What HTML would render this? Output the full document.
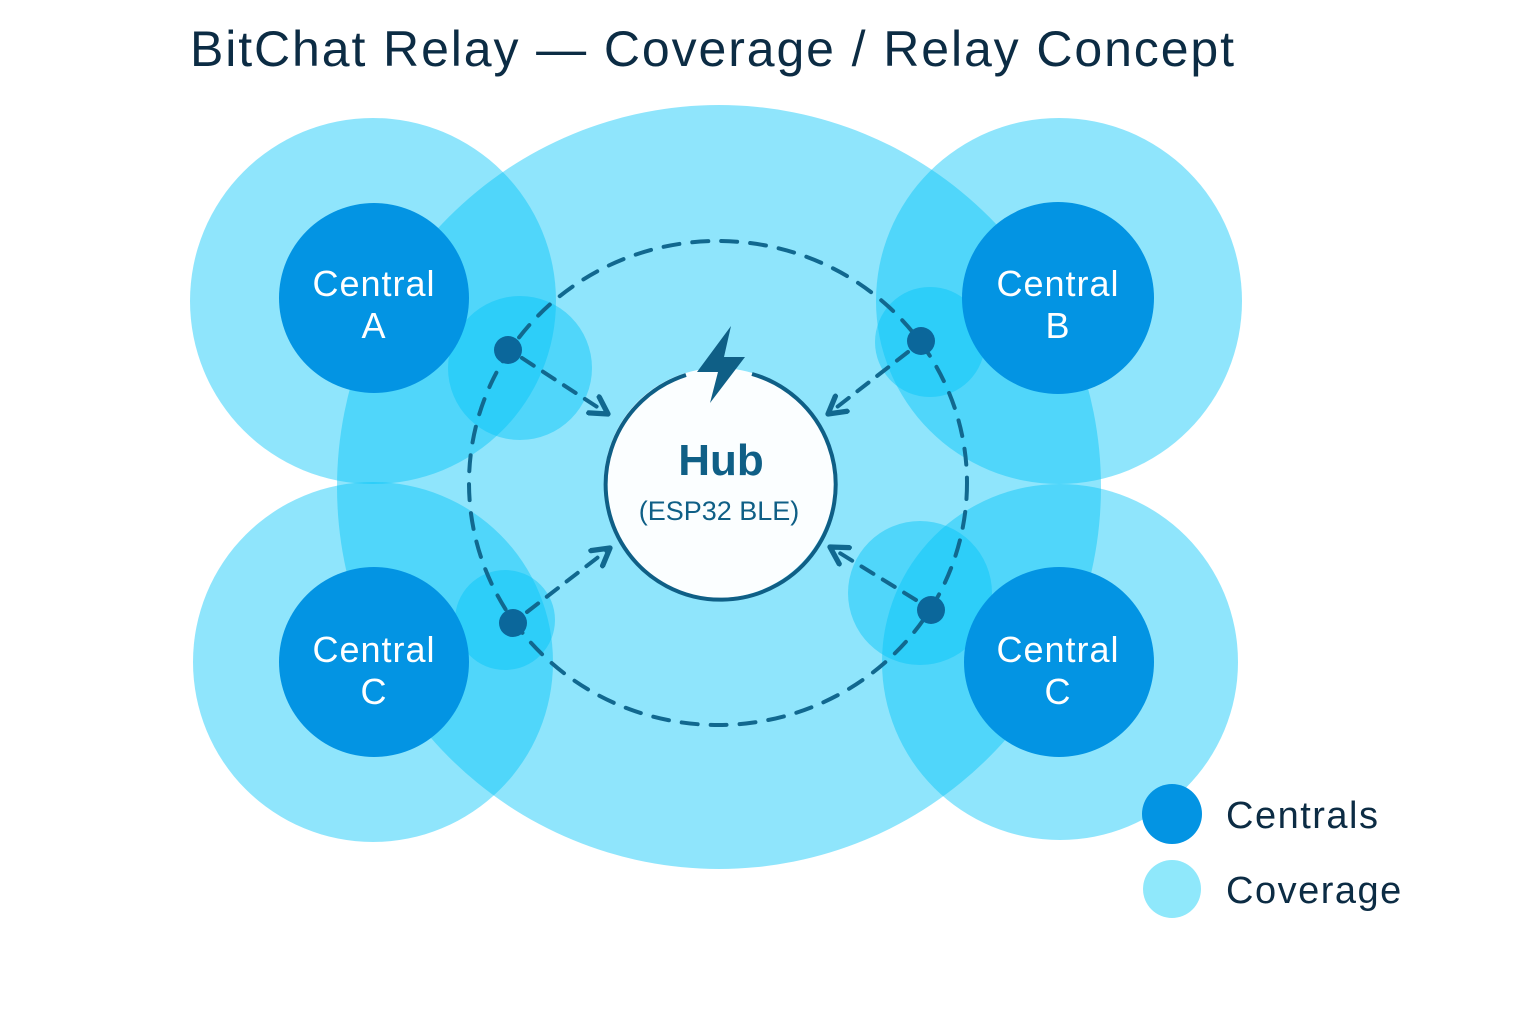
<!DOCTYPE html>
<html><head><meta charset="utf-8"><style>
html,body{margin:0;padding:0;background:#fff;}
svg{display:block;}
text{font-family:"Liberation Sans","DejaVu Sans",sans-serif;}
</style></head><body>
<svg width="1536" height="1024" viewBox="0 0 1536 1024" xmlns="http://www.w3.org/2000/svg">
<defs>
<marker id="ah" viewBox="0 0 10 10" refX="8" refY="5" markerWidth="6" markerHeight="6" orient="auto">
<path d="M1,1 L8,5 L1,9" fill="none" stroke="#11688f" stroke-width="2.2" stroke-linecap="round" stroke-linejoin="round"/>
</marker>
</defs>
<text x="190" y="66" font-size="50" letter-spacing="1.9" fill="#0c2c44">BitChat Relay — Coverage / Relay Concept</text>
<g fill="#00c4f8" fill-opacity="0.44">
<circle cx="719" cy="487" r="382"/>
<circle cx="373" cy="301" r="183"/>
<circle cx="1059" cy="301" r="183"/>
<circle cx="373" cy="662" r="180"/>
<circle cx="1060" cy="662" r="178"/>
<circle cx="520" cy="368" r="72"/>
<circle cx="930" cy="342" r="55"/>
<circle cx="505" cy="620" r="50"/>
<circle cx="920" cy="593" r="72"/>
</g>
<ellipse cx="718" cy="483" rx="249" ry="242" fill="none" stroke="#11688f" stroke-width="4" stroke-dasharray="16 13" stroke-linecap="round"/>
<g fill="#0394e3">
<circle cx="374" cy="298" r="95"/>
<circle cx="1058" cy="298" r="96"/>
<circle cx="374" cy="662" r="95"/>
<circle cx="1059" cy="662" r="95"/>
</g>
<g fill="#fff" font-size="36" letter-spacing="1" text-anchor="middle">
<text x="374" y="296">Central</text><text x="374" y="338">A</text>
<text x="1058" y="296">Central</text><text x="1058" y="338">B</text>
<text x="374" y="662">Central</text><text x="374" y="704">C</text>
<text x="1058" y="662">Central</text><text x="1058" y="704">C</text>
</g>
<g stroke="#11688f" stroke-width="4" stroke-dasharray="14 11" stroke-linecap="round" fill="none" marker-end="url(#ah)">
<line x1="522" y1="358" x2="608" y2="414"/>
<line x1="908" y1="352" x2="828" y2="414"/>
<line x1="527" y1="612" x2="610" y2="548"/>
<line x1="916" y1="600" x2="830" y2="547"/>
</g>
<g fill="#0b679b">
<circle cx="508" cy="350" r="14"/>
<circle cx="921" cy="341" r="14"/>
<circle cx="513" cy="623" r="14"/>
<circle cx="931" cy="610" r="14"/>
</g>
<circle cx="719" cy="483" r="115" fill="#fff" fill-opacity="0.96"/>
<path d="M686,375 A115,115 0 1 0 752,374" fill="none" stroke="#0f5f86" stroke-width="4"/>
<path d="M731,326 L697,372 L718,372 L710,403 L745,357 L724,357 Z" fill="#0f5f86"/>
<text x="721" y="475" font-size="44" font-weight="bold" fill="#0f5f86" text-anchor="middle">Hub</text>
<text x="719" y="520" font-size="27" fill="#0f5f86" text-anchor="middle">(ESP32 BLE)</text>
<circle cx="1172" cy="814" r="30" fill="#0394e3"/>
<circle cx="1172" cy="889" r="29" fill="#8fe8fb"/>
<text x="1226" y="828" font-size="38" letter-spacing="1.5" fill="#0c2c44">Centrals</text>
<text x="1226" y="903" font-size="38" letter-spacing="1.5" fill="#0c2c44">Coverage</text>
</svg>
</body></html>
